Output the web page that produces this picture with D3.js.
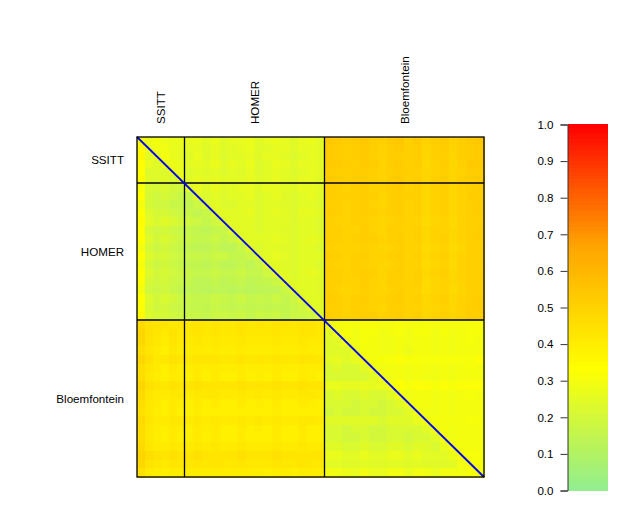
<!DOCTYPE html>
<html><head><meta charset="utf-8">
<script src="https://cdn.jsdelivr.net/npm/d3@7"></script>
<style>html,body{margin:0;background:#fff}svg{display:block}text{font-family:"Liberation Sans",Arial,sans-serif;font-size:11.6px;fill:#000}</style>
</head><body><div id="chart"></div>
<script>
const groups = ["SSITT", "HOMER", "Bloemfontein"];
const groupSizes = [6, 16, 18];
const legendTicks = [0, 0.1, 0.2, 0.3, 0.4, 0.5, 0.6, 0.7, 0.8, 0.9, 1];
const colorStops = ["#90EE90", "#FFFF00", "#FFA500", "#FF0000"];
const colorDomain = [0, 1 / 3, 2 / 3, 1];
const heat = [
[32,28,30,28,27,27,26,27,25,27,24,26,26,27,24,26,27,26,24,26,27,25,54,53,52,53,54,52,51,53,54,51,53,50,52,53,50,52,53,54],
[35,27,29,29,27,26,25,26,24,26,24,25,26,27,24,25,26,26,24,26,26,25,53,52,51,52,53,51,50,52,53,51,52,49,51,52,49,51,52,53],
[36,25,27,30,27,26,24,27,24,26,23,25,25,26,24,26,26,25,23,25,26,25,53,52,51,52,53,51,50,52,52,51,52,49,51,51,49,51,52,53],
[34,26,24,28,28,27,25,26,25,27,24,26,25,27,23,25,27,26,24,26,26,25,53,53,52,51,53,52,50,52,53,51,52,48,50,52,48,51,53,53],
[33,23,24,23,28,27,23,25,24,25,23,25,24,26,23,25,26,25,23,25,26,25,52,51,51,52,52,51,50,51,52,51,51,49,50,51,49,50,52,52],
[34,24,23,24,22,27,24,26,25,26,25,25,25,26,24,25,26,25,24,26,26,25,53,52,51,52,52,51,50,52,53,51,52,49,51,52,49,51,52,53],
[31,22,21,22,20,19,25,26,24,26,24,25,26,26,24,26,26,25,24,26,26,25,52,51,50,51,52,50,50,51,52,50,51,48,50,51,48,50,51,52],
[33,21,19,21,19,17,17,25,23,25,23,25,25,26,23,25,26,24,23,25,26,24,52,51,51,51,52,51,49,51,52,51,51,48,50,51,48,50,52,52],
[30,21,19,19,17,17,15,18,23,25,23,23,25,25,23,25,25,24,23,25,25,23,51,51,50,51,52,50,49,51,52,50,51,48,50,51,48,50,51,52],
[33,23,21,21,19,18,17,15,17,25,25,25,25,26,23,25,26,25,23,26,26,25,52,51,50,51,52,51,50,51,52,50,51,48,50,51,48,50,51,52],
[35,25,22,24,22,20,19,18,16,19,24,25,25,25,23,25,25,25,23,25,25,23,51,50,50,51,51,50,49,50,51,50,50,47,49,50,47,50,51,51],
[33,21,19,20,18,17,16,15,14,16,17,24,25,25,23,25,25,24,23,25,25,23,51,51,50,50,52,50,49,51,51,50,51,48,50,50,48,50,51,52],
[33,23,20,22,20,18,17,16,16,18,16,18,24,25,25,25,26,25,23,25,26,25,52,51,50,51,52,51,50,51,52,50,51,48,50,51,48,50,51,52],
[30,21,18,20,18,17,15,14,14,16,14,14,17,25,23,25,25,24,23,25,25,23,51,50,50,50,51,50,49,50,51,50,50,47,49,50,47,49,51,51],
[33,23,21,21,19,18,17,17,16,18,18,16,16,18,24,25,26,25,23,25,25,25,52,51,50,51,52,50,50,51,52,50,51,48,50,51,48,50,51,52],
[31,21,18,20,18,17,15,15,14,16,14,14,16,14,17,25,25,24,23,25,25,23,51,50,50,51,51,50,49,50,51,50,50,47,49,50,47,50,51,51],
[33,23,20,21,19,18,17,16,16,18,16,16,18,16,16,19,25,25,23,25,26,25,52,51,50,51,52,51,49,51,52,50,51,48,50,51,48,50,51,52],
[32,21,19,20,18,17,16,14,14,16,14,15,16,14,15,16,18,25,24,25,25,24,51,51,50,50,52,50,49,51,51,50,51,47,49,50,48,50,51,51],
[30,19,18,19,17,15,14,14,13,14,14,13,14,13,14,14,14,18,24,25,25,24,51,50,49,50,51,50,49,50,51,50,50,47,49,50,47,49,51,51],
[33,23,20,22,20,18,17,16,16,18,17,16,18,16,17,16,18,16,18,25,25,25,52,51,50,51,52,50,50,51,52,50,51,48,50,51,48,50,51,52],
[32,22,19,20,18,17,16,16,15,17,16,15,16,15,16,15,16,15,17,19,25,24,51,51,50,51,51,50,49,51,51,50,50,48,49,50,48,50,51,52],
[35,23,21,21,19,18,17,17,16,18,18,17,18,16,18,17,18,16,18,18,19,25,52,51,50,51,52,51,50,51,52,50,51,48,50,51,49,50,52,52],
[47,44,43,43,42,43,42,43,42,43,42,42,43,42,43,42,43,43,42,43,43,42,30,30,31,30,31,31,30,30,31,30,30,31,30,30,30,30,31,31],
[49,45,43,41,44,42,42,43,42,43,42,42,43,42,42,42,43,42,42,43,43,42,25,29,31,29,31,31,29,30,31,29,31,31,29,31,29,30,31,31],
[48,44,42,40,43,41,41,42,41,42,41,41,42,41,41,41,42,41,41,42,41,41,24,25,29,29,31,30,29,29,30,29,30,30,29,30,29,30,31,30],
[46,43,41,39,42,40,40,41,40,41,40,40,41,40,40,40,41,40,40,41,40,40,24,24,24,28,30,30,29,29,30,28,30,30,29,30,29,30,30,30],
[48,45,42,42,44,43,42,43,43,43,42,42,43,42,43,42,43,42,42,43,43,42,25,26,24,26,30,30,31,31,32,31,31,31,31,31,31,31,31,32],
[46,43,41,39,42,40,40,41,40,41,40,40,41,40,40,40,41,40,40,41,40,40,22,24,22,22,25,29,29,30,30,29,30,30,29,30,29,30,31,30],
[46,42,40,39,41,40,39,41,39,41,39,39,41,39,40,39,41,39,39,41,40,39,22,22,22,22,22,25,29,29,30,29,30,29,29,30,29,30,30,30],
[49,45,43,42,44,43,43,44,43,43,43,43,44,43,43,43,44,43,43,44,43,43,27,27,26,26,27,26,27,30,33,31,32,32,31,32,31,32,32,32],
[47,43,41,41,42,42,41,42,42,42,41,41,42,41,42,41,42,41,41,42,42,41,22,24,22,22,24,22,22,25,30,29,30,30,29,30,29,30,31,30],
[46,42,41,39,41,40,39,41,39,41,39,39,41,39,40,39,41,39,39,41,40,39,22,22,22,20,22,22,20,22,25,29,30,30,29,30,29,30,30,30],
[45,42,40,39,41,39,39,40,39,39,39,39,39,39,39,39,40,39,39,39,39,39,20,22,20,20,22,20,20,22,22,25,29,29,29,30,29,30,30,30],
[47,43,41,41,42,42,41,42,41,42,41,41,42,41,42,41,42,41,41,42,42,41,24,24,24,24,24,24,22,24,24,24,27,30,30,30,30,30,31,31],
[46,42,40,39,41,40,39,41,40,41,39,39,41,39,40,39,41,39,39,41,39,39,22,22,20,22,22,20,20,22,22,22,22,25,29,30,29,30,30,30],
[46,42,40,39,41,39,39,41,39,41,39,39,41,39,39,39,41,39,39,41,39,39,22,22,20,20,22,20,20,22,22,20,22,22,25,30,29,30,30,30],
[47,43,41,41,42,41,41,42,41,42,41,41,42,41,41,41,42,41,41,42,41,41,24,24,22,22,24,22,22,24,24,22,24,24,22,27,30,30,30,30],
[49,46,44,43,45,43,43,45,43,43,43,43,45,43,43,43,45,43,43,43,43,43,27,27,25,25,27,25,25,27,27,25,27,25,25,25,28,31,31,31],
[48,44,42,41,43,42,42,43,42,43,42,42,43,42,42,42,43,42,42,43,42,42,25,25,24,24,25,24,24,25,25,24,25,24,24,24,25,29,31,31],
[45,41,40,39,40,40,40,40,40,40,40,40,40,40,40,39,40,40,39,40,40,40,29,29,28,27,29,27,27,29,29,27,29,29,27,29,29,29,31,31]
];

const width = 623, height = 519;
const cum = d3.cumsum(groupSizes);
const n = cum[cum.length - 1];
const x = d3.scaleLinear().domain([0, ...cum]).range([137, 184.5, 324.5, 484]);
const y = d3.scaleLinear().domain([0, ...cum]).range([137, 183, 320, 477]);
const color = d3.scaleLinear().domain(colorDomain).range(colorStops).interpolate(d3.interpolateRgb);
const starts = [0, ...cum.slice(0, -1)];

const svg = d3.select("#chart").append("svg").attr("width", width).attr("height", height);

svg.append("g").attr("shape-rendering", "crispEdges").selectAll("g").data(heat).join("g")
  .each(function (row, r) {
    d3.select(this).selectAll("rect").data(row).join("rect")
      .attr("x", (_, c) => x(c))
      .attr("y", y(r))
      .attr("width", (_, c) => x(c + 1) - x(c) + 0.5)
      .attr("height", y(r + 1) - y(r) + 0.5)
      .attr("fill", v => color(v / 100));
  });

const rules = svg.append("g").attr("stroke", "#000").attr("stroke-width", 1.3);
rules.selectAll(".v").data(cum.slice(0, -1)).join("line").attr("class", "v")
  .attr("x1", d => x(d)).attr("x2", d => x(d)).attr("y1", y(0)).attr("y2", y(n));
rules.selectAll(".h").data(cum.slice(0, -1)).join("line").attr("class", "h")
  .attr("y1", d => y(d)).attr("y2", d => y(d)).attr("x1", x(0)).attr("x2", x(n));

svg.append("line").attr("x1", x(0)).attr("y1", y(0)).attr("x2", x(n)).attr("y2", y(n))
  .attr("stroke", "#0000F0").attr("stroke-width", 1.8);

svg.append("rect").attr("x", x(0)).attr("y", y(0)).attr("width", x(n) - x(0)).attr("height", y(n) - y(0))
  .attr("fill", "none").attr("stroke", "#000").attr("stroke-width", 1.3);

svg.selectAll(".rowlab").data(groups).join("text").attr("class", "rowlab")
  .attr("x", 124).attr("y", (_, i) => (y(starts[i]) + y(cum[i])) / 2 + 4)
  .attr("text-anchor", "end").text(d => d);
svg.selectAll(".collab").data(groups).join("text").attr("class", "collab")
  .attr("text-anchor", "start")
  .attr("transform", (_, i) => `translate(${(x(starts[i]) + x(cum[i])) / 2 + 4.5},124) rotate(-90)`)
  .text(d => d);

const barScale = d3.scaleLinear().domain([0, 1]).range([490, 124]);
const levels = d3.range(0, 100).map(i => i / 100);
svg.append("g").attr("shape-rendering", "crispEdges").selectAll("rect").data(levels).join("rect")
  .attr("x", 568).attr("width", 40)
  .attr("y", d => barScale(d + 0.01))
  .attr("height", d => barScale(d) - barScale(d + 0.01) + 0.5)
  .attr("fill", d => color(d + 0.005));

const axis = svg.append("g").attr("transform", "translate(567.5,0.5)")
  .call(d3.axisLeft(barScale).tickValues(legendTicks).tickFormat(d3.format(".1f")).tickSize(7).tickPadding(7));
axis.selectAll("path,line").attr("stroke", "#333");
axis.selectAll("text").style("font-size", "11.6px").style("font-family", '"Liberation Sans",Arial,sans-serif');
</script></body></html>
